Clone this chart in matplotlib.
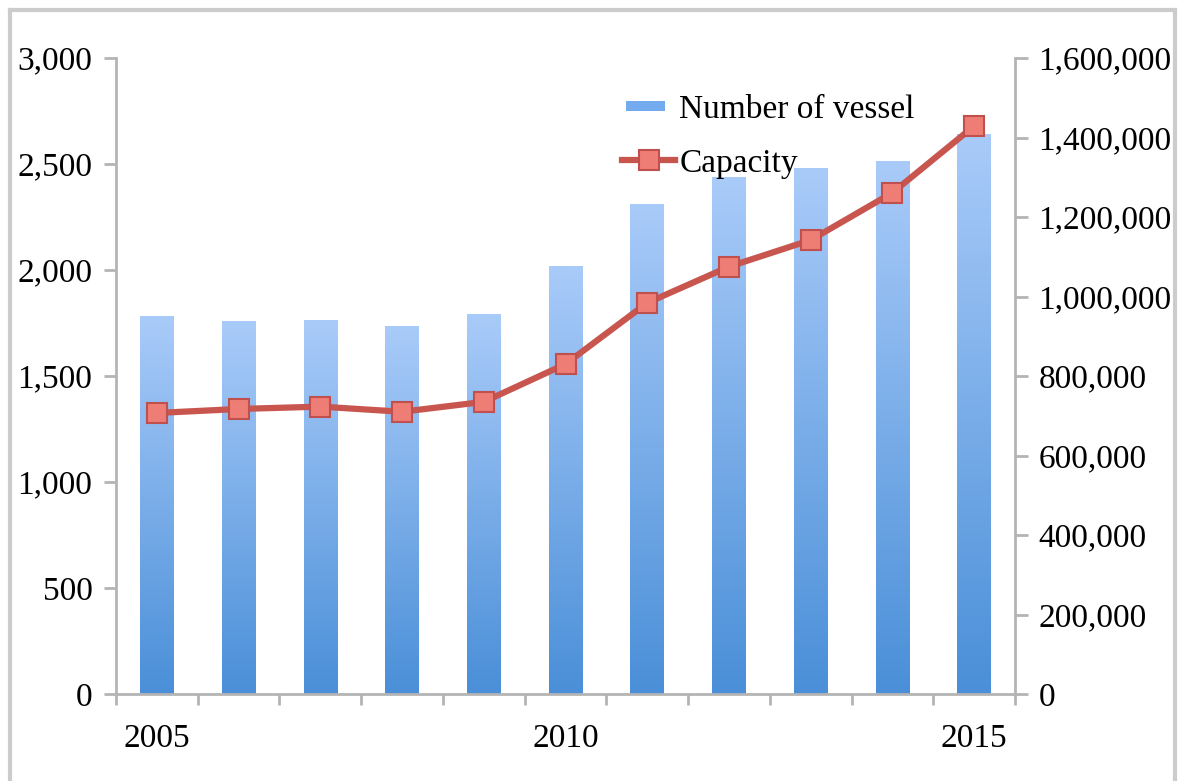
import matplotlib
matplotlib.use("Agg")
import matplotlib.pyplot as plt
import numpy as np
from matplotlib.lines import Line2D
from matplotlib.patches import Rectangle
from matplotlib.legend_handler import HandlerPatch
from matplotlib.colors import LinearSegmentedColormap
from matplotlib.ticker import FuncFormatter, FixedLocator

years = [2005, 2006, 2007, 2008, 2009, 2010, 2011, 2012, 2013, 2014, 2015]
vessels = [1780, 1757, 1764, 1733, 1792, 2016, 2310, 2434, 2481, 2511, 2637]
capacity = [707000, 717000, 723000, 710000, 735000, 830000, 984000, 1075000, 1142000, 1261000, 1429000]
year_labels = ["2005", "", "", "", "", "2010", "", "", "", "", "2015"]

plt.rcParams['font.family'] = ['Liberation Serif', 'DejaVu Serif']
FS = 24
AX_GRAY = '#b4b4b4'

fig = plt.figure(figsize=(11.8, 7.81), dpi=100)
ax = fig.add_axes([116/1180, 1-694/781, (1015-116)/1180, (694-58)/781])
ax2 = ax.twinx()

x = np.arange(len(years))
bars = ax.bar(x, vessels, width=0.41, color='none', edgecolor='none', zorder=2)
cmap = LinearSegmentedColormap.from_list('g', ['#4a8fd8', '#a9cbf9'])
grad = np.linspace(0, 1, 256).reshape(-1, 1)
for b in bars:
    x0, w, h = b.get_x(), b.get_width(), b.get_height()
    ax.imshow(grad, extent=[x0, x0 + w, 0, h], origin='lower', cmap=cmap,
              aspect='auto', zorder=2, interpolation='bilinear')

ax.set_xlim(-0.5, len(years) - 0.5)
ax.set_ylim(0, 3000)
ax.set_yticks(np.arange(0, 3001, 500))
ax.yaxis.set_major_formatter(FuncFormatter(lambda v, p: f"{int(v):,}"))

ax.set_xticks(x)
ax.set_xticklabels(year_labels)
ax.xaxis.set_minor_locator(FixedLocator(np.arange(-0.5, len(years), 1.0)))
ax.tick_params(axis='x', which='major', length=0, pad=21, labelsize=FS)
ax.tick_params(axis='x', which='minor', length=8, width=2, color=AX_GRAY, direction='out')
ax.tick_params(axis='y', length=9, width=2, color=AX_GRAY, labelsize=FS, pad=8)

ax2.plot(x, capacity, color='#c8564f', lw=4.5, marker='s', markersize=14.5,
         markerfacecolor='#ee7d76', markeredgecolor='#c0504d', markeredgewidth=1.5, zorder=3)
ax2.set_ylim(0, 1600000)
ax2.set_yticks(np.arange(0, 1600001, 200000))
ax2.yaxis.set_major_formatter(FuncFormatter(lambda v, p: f"{int(v):,}"))
ax2.tick_params(axis='y', length=9, width=2, color=AX_GRAY, labelsize=FS, pad=8)

for a in (ax, ax2):
    a.spines['top'].set_visible(False)
    for s in ('left', 'right', 'bottom'):
        a.spines[s].set_color(AX_GRAY)
        a.spines[s].set_linewidth(2)
ax.spines['right'].set_visible(False)
ax2.spines['left'].set_visible(False)
ax2.spines['bottom'].set_visible(False)

def make_bar_patch(legend, orig_handle, xdescent, ydescent, width, height, fontsize):
    return Rectangle((xdescent + width * 0.08, ydescent + height * 0.3), width * 0.72, height * 0.4)

h_bar = Rectangle((0, 0), 1, 1, facecolor='#74aaee', edgecolor='none')
h_line = Line2D([], [], color='#c8564f', lw=4.5, marker='s', markersize=14.5,
                markerfacecolor='#ee7d76', markeredgecolor='#c0504d', markeredgewidth=1.5)
fig.legend([h_bar, h_line], ['Number of vessel', 'Capacity'],
           loc='upper left', bbox_to_anchor=(622/1180, 1-94/781),
           frameon=False, fontsize=FS, handlelength=1.6, handletextpad=0.12,
           labelspacing=0.72, borderaxespad=0, borderpad=0,
           handler_map={Rectangle: HandlerPatch(patch_func=make_bar_patch)})

# outer chart border
border_c = '#cccccc'
fig.add_artist(Line2D([10/1180, 10/1180], [1-10/781, 0], transform=fig.transFigure, color=border_c, lw=3))
fig.add_artist(Line2D([10/1180, 1175/1180], [1-10/781, 1-10/781], transform=fig.transFigure, color=border_c, lw=3))
fig.add_artist(Line2D([1175/1180, 1175/1180], [1-10/781, 0], transform=fig.transFigure, color=border_c, lw=3))

fig.savefig('out.png', dpi=100)
